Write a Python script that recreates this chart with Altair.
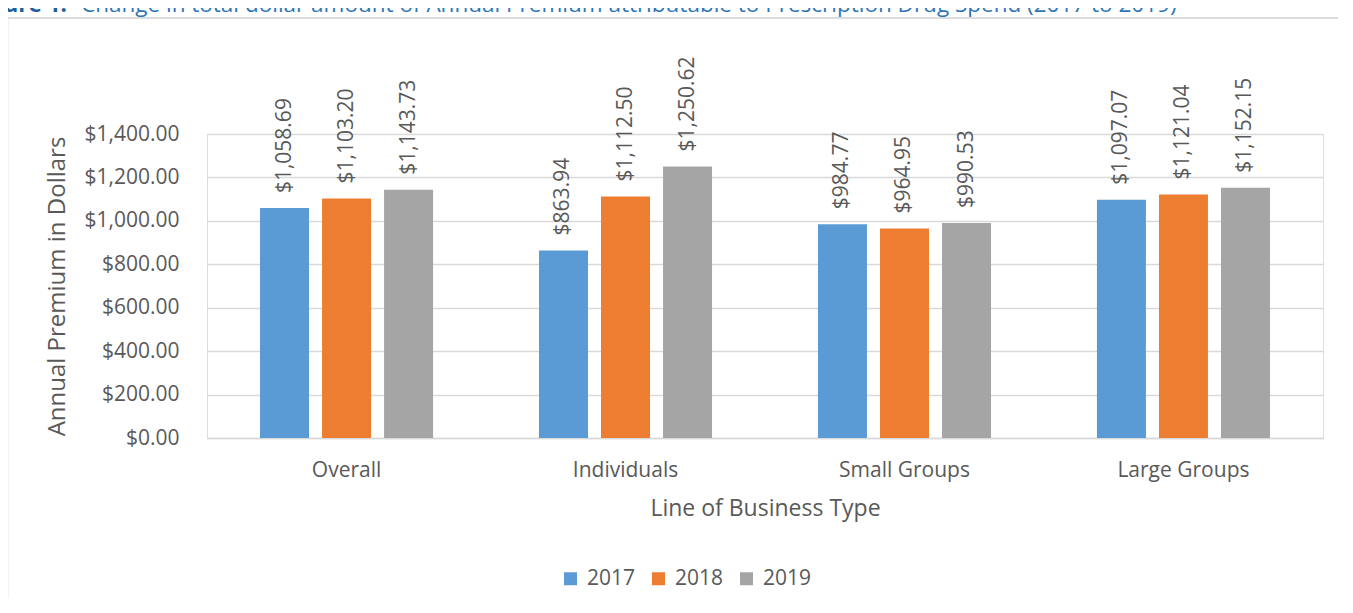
import altair as alt
import pandas as pd

categories = ["Overall", "Individuals", "Small Groups", "Large Groups"]
years = ["2017", "2018", "2019"]
values_2017 = [1058.69, 863.94, 984.77, 1097.07]
values_2018 = [1103.20, 1112.50, 964.95, 1121.04]
values_2019 = [1143.73, 1250.62, 990.53, 1152.15]
colors = ["#5B9BD5", "#ED7D31", "#A5A5A5"]
y_ticks = [0, 200, 400, 600, 800, 1000, 1200, 1400]
title_bold = "Figure 1."
title_rest = ("Change in total dollar amount of Annual Premium attributable to "
              "Prescription Drug Spend (2017 to 2019)")
y_title = "Annual Premium in Dollars"
x_title = "Line of Business Type"

rows = []
for yr, vals in zip(years, [values_2017, values_2018, values_2019]):
    for c, v in zip(categories, vals):
        rows.append({"category": c, "year": yr, "value": v})
df = pd.DataFrame(rows)

FONT = "Open Sans"
TEXT = "#595959"
GRID = "#D9D9D9"

x_enc = alt.X(
    "category:N", sort=categories, title=x_title,
    scale=alt.Scale(paddingInner=0.333, paddingOuter=0.1667),
    axis=alt.Axis(labelAngle=0, labelFontSize=21, labelColor=TEXT, labelFont=FONT,
                  labelPadding=21, ticks=False, domainColor=GRID, domainWidth=1.5,
                  titleFontSize=23, titleColor=TEXT, titleFont=FONT,
                  titleFontWeight="normal", titlePadding=17),
)
xo_enc = alt.XOffset("year:N", sort=years,
                     scale=alt.Scale(paddingInner=0.21, paddingOuter=0.105))
y_enc = alt.Y(
    "value:Q", title=y_title,
    scale=alt.Scale(domain=[0, 1400], nice=False),
    axis=alt.Axis(values=y_ticks, format="$,.2f", labelFontSize=21, labelColor=TEXT,
                  labelFont=FONT, labelPadding=28, ticks=False, domain=False,
                  grid=True, gridColor=GRID, gridWidth=1.5,
                  titleFontSize=24, titleColor=TEXT, titleFont=FONT,
                  titleFontWeight="normal", titlePadding=14),
)
color_enc = alt.Color(
    "year:N", sort=years,
    scale=alt.Scale(domain=years, range=colors),
    legend=alt.Legend(orient="none", legendX=353, legendY=434, direction="horizontal",
                      title=None, symbolType="square", symbolSize=169,
                      symbolStrokeWidth=0, labelFontSize=21, labelColor=TEXT,
                      labelFont=FONT, labelOffset=6, columnPadding=12),
)

base = alt.Chart(df)
bars = base.mark_bar().encode(x=x_enc, xOffset=xo_enc, y=y_enc, color=color_enc)
labels = base.mark_text(angle=270, align="left", baseline="middle", dx=15,
                        fontSize=21, font=FONT, color=TEXT).encode(
    x=alt.X("category:N", sort=categories),
    xOffset=xo_enc,
    y=alt.Y("value:Q"),
    text=alt.Text("value:Q", format="$,.2f"),
)

one = pd.DataFrame({"k": [0]})
frame_left = alt.Chart(one).mark_rule(color="#D0D0D0", strokeWidth=1.5).encode(
    x=alt.value(-199.5), y=alt.value(-116), y2=alt.value(500))
frame_top = alt.Chart(one).mark_rule(color="#D0D0D0", strokeWidth=1.5).encode(
    x=alt.value(-199.5), x2=alt.value(1300), y=alt.value(-116))
t_bold = alt.Chart(one).mark_text(align="right", baseline="alphabetic", fontSize=22.5,
                                  font=FONT, fontWeight="bold", color="#1F5F9E").encode(
    x=alt.value(-140), y=alt.value(-122), text=alt.value(title_bold))
t_rest = alt.Chart(one).mark_text(align="left", baseline="alphabetic", fontSize=22.5,
                                  font=FONT, color="#2E75B6").encode(
    x=alt.value(-126), y=alt.value(-122), text=alt.value(title_rest))

chart = alt.layer(frame_left, frame_top, t_bold, t_rest, bars, labels).properties(
    width=1116, height=304,
    autosize=alt.AutoSizeParams(type="none"),
    padding={"left": 199, "top": 126, "right": 15, "bottom": 160},
).configure_view(stroke=None).configure(font=FONT)

chart.save("out.html", embed_options={"renderer": "svg", "actions": False})
